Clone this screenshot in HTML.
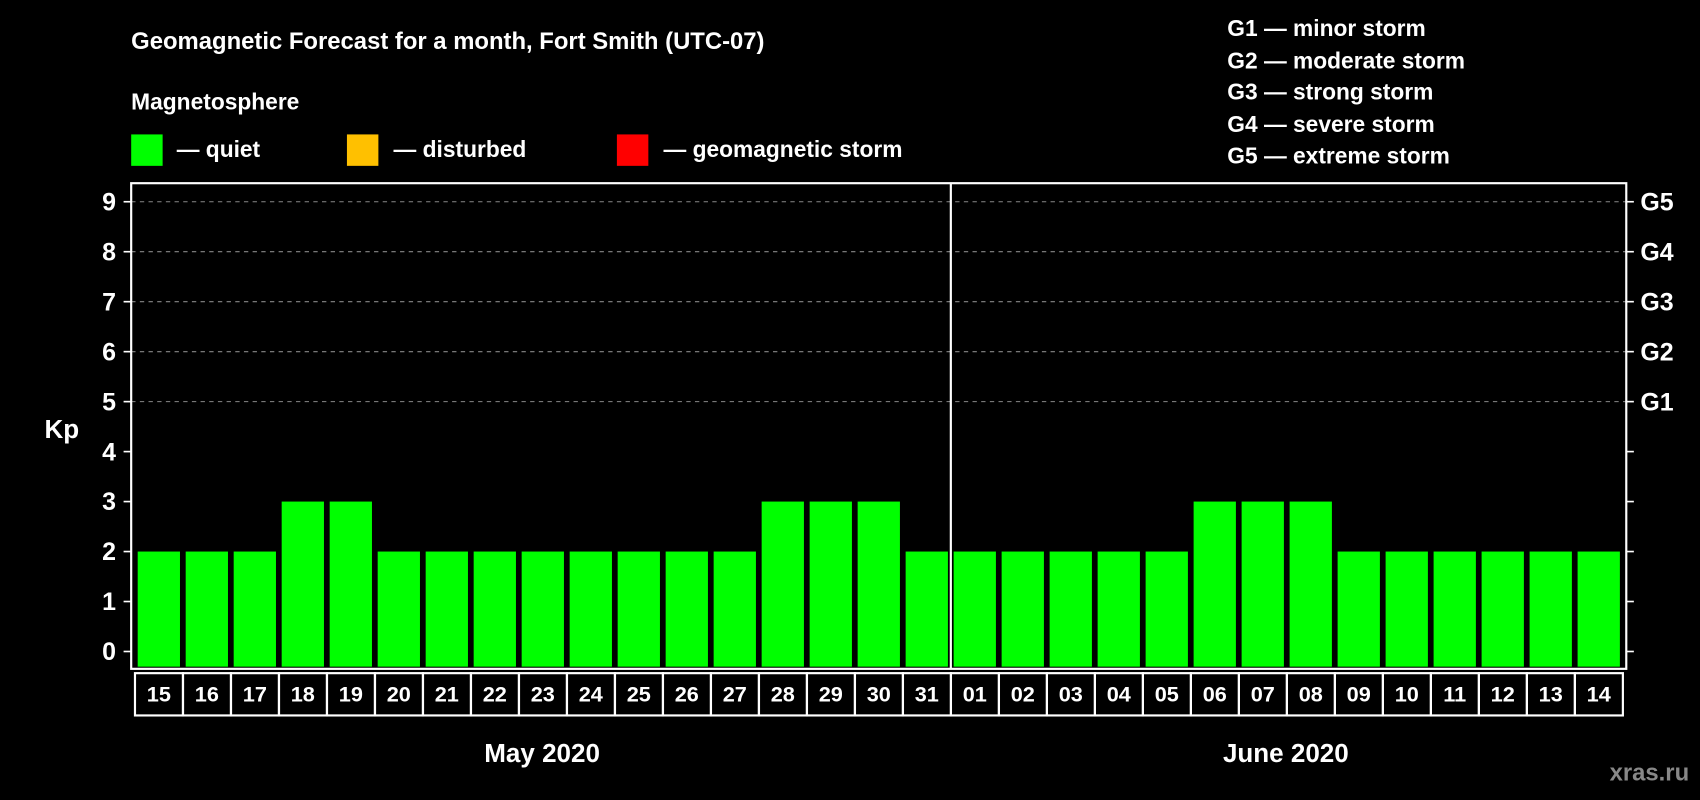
<!DOCTYPE html>
<html><head><meta charset="utf-8"><style>
html,body{margin:0;padding:0;background:#000;width:1700px;height:800px;overflow:hidden}
svg{display:block;font-family:"Liberation Sans",sans-serif;font-weight:bold}
</style></head><body>
<svg id="chart" width="1700" height="800" viewBox="0 0 1568 738" preserveAspectRatio="none">
<rect x="0" y="0" width="1568" height="738" fill="#000"/>
<text x="121" y="45" fill="#fff" font-size="22">Geomagnetic Forecast for a month, Fort Smith (UTC-07)</text>
<text x="121" y="101" fill="#fff" font-size="21">Magnetosphere</text>
<g><rect x="121" y="124" width="29" height="29" fill="#00ff00"/><text x="163" y="145" fill="#fff" font-size="21">— quiet</text></g>
<g><rect x="320" y="124" width="29" height="29" fill="#ffc000"/><text x="363" y="145" fill="#fff" font-size="21">— disturbed</text></g>
<g><rect x="569" y="124" width="29" height="29" fill="#ff0000"/><text x="612" y="145" fill="#fff" font-size="21">— geomagnetic storm</text></g>
<g fill="#fff" font-size="21">
<text x="1132" y="33">G1 — minor storm</text>
<text x="1132" y="63">G2 — moderate storm</text>
<text x="1132" y="92">G3 — strong storm</text>
<text x="1132" y="122">G4 — severe storm</text>
<text x="1132" y="151">G5 — extreme storm</text>
</g>
<text x="57" y="404" fill="#fff" font-size="24" text-anchor="middle">Kp</text>
<g id="grid"></g><g id="bars"></g><g id="axes"></g>
<text x="1558" y="720" fill="#888" font-size="22" text-anchor="end">xras.ru</text>
</svg>
<script>
const days=["15","16","17","18","19","20","21","22","23","24","25","26","27","28","29","30","31","01","02","03","04","05","06","07","08","09","10","11","12","13","14"];
const kpValues=[2,2,2,3,3,2,2,2,2,2,2,2,2,3,3,3,2,2,2,2,2,2,3,3,3,2,2,2,2,2,2];
const yTicks=[0,1,2,3,4,5,6,7,8,9];
const gLabels=["G1","G2","G3","G4","G5"];
const months=["May 2020","June 2020"];
const NS="http://www.w3.org/2000/svg";
const L=121,R=1500,T=169,B=617,X0=127,PITCH=44.27,BW=39;
const y=v=>601-v*46.1;
const x=i=>X0+i*PITCH;
function mk(tag,attrs,parent){const e=document.createElementNS(NS,tag);for(const k in attrs)e.setAttribute(k,attrs[k]);parent.appendChild(e);return e;}
const grid=document.getElementById('grid'),bars=document.getElementById('bars'),axes=document.getElementById('axes');
yTicks.forEach(v=>{
  if(v>=5){const g=mk('line',{x1:L,x2:R,y1:y(v),y2:y(v),stroke:'#888','stroke-dasharray':'4,4','stroke-width':1},grid);
  
  }
  mk('line',{x1:L-7,x2:L,y1:y(v),y2:y(v),stroke:'#fff','stroke-width':1.5},axes);
  mk('line',{x1:R,x2:R+7,y1:y(v),y2:y(v),stroke:'#fff','stroke-width':1.5},axes);
  const t=mk('text',{x:107,y:y(v)+8,fill:'#fff','font-size':23,'text-anchor':'end'},axes);t.textContent=v;
  
  
});
gLabels.forEach((g,i)=>{const t=mk('text',{x:1513,y:y(5+i)+8,fill:'#fff','font-size':23},axes);t.textContent=g;
  
  });
kpValues.forEach((v,i)=>{
  const r=mk('rect',{x:x(i),y:y(v),width:BW,height:y(0)-y(v)+14,fill:'#00ff00'},bars);
  
  
  const b=mk('rect',{x:x(i)-2.5,y:621,width:PITCH,height:39,fill:'none',stroke:'#fff','stroke-width':2},axes);
  
  
  const t=mk('text',{x:x(i)+BW/2,y:647,fill:'#fff','font-size':20,'text-anchor':'middle'},axes);t.textContent=days[i];
  
  
});
const fr=mk('rect',{x:L,y:T,width:R-L,height:B-T,fill:'none',stroke:'#fff','stroke-width':2},axes);


const dv=mk('line',{x1:877,x2:877,y1:T,y2:B,stroke:'#fff','stroke-width':2},axes);


[[500,months[0]],[1186,months[1]]].forEach(([cx,m])=>{const t=mk('text',{x:cx,y:703,fill:'#fff','font-size':24,'text-anchor':'middle'},axes);t.textContent=m;
  
  });
</script>
</body></html>
